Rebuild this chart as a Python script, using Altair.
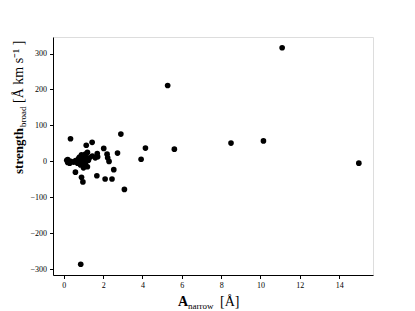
import altair as alt
import pandas as pd

a_narrow = [11.1, 5.28, 2.9, 8.5, 10.15, 5.62, 4.15, 3.93, 15.0, 0.86, 3.08,
            0.34, 1.14, 1.44, 2.03, 2.73, 2.2, 2.23, 2.3, 1.7, 1.72,
            0.59, 0.9, 0.97, 1.68, 2.1, 2.45, 2.54,
            0.15, 0.2, 0.25, 0.3, 0.2, 0.35, 0.5, 0.6, 0.7, 0.75, 0.8, 0.85,
            0.9, 0.95, 1.0, 1.05, 1.1, 1.1, 1.15, 1.2, 1.25, 1.3, 1.45, 1.0,
            0.9, 1.2, 0.7, 1.6]
strength = [316, 211, 76, 51, 57, 34, 37, 6, -5, -286, -78,
            63, 45, 53, 36, 23, 20, 10, 0, 22, 13,
            -30, -44, -57, -40, -49, -49, -23,
            3, -3, 1, -5, 5, 0, -2, 2, -5, 8, 12, -10,
            5, -3, 15, 0, 20, -8, 8, -15, 3, 10, 15, -18,
            18, 25, 0, 10]

x_ticks = [0, 2, 4, 6, 8, 10, 12, 14]
y_ticks = [-300, -200, -100, 0, 100, 200, 300]

df = pd.DataFrame({"a": a_narrow, "s": strength})
FONT = "Liberation Serif"

points = alt.Chart(df).mark_circle(color="black", opacity=1, size=32).encode(
    x=alt.X("a:Q", scale=alt.Scale(domain=[-0.55, 15.72], nice=False, zero=False),
            axis=alt.Axis(values=x_ticks, title=None, grid=False, tickSize=3.5,
                          labelFont=FONT, labelFontSize=8, labelColor="black",
                          tickColor="black", domainColor="black", labelPadding=3)),
    y=alt.Y("s:Q", scale=alt.Scale(domain=[-316, 346], nice=False, zero=False),
            axis=alt.Axis(values=y_ticks, title=None, grid=False, tickSize=3.5,
                          labelFont=FONT, labelFontSize=8, labelColor="black",
                          tickColor="black", domainColor="black", labelPadding=3)),
)

def txt(t, x, y, size, bold=False, angle=0):
    return alt.Chart(pd.DataFrame({"t": [t]})).mark_text(
        font=FONT, fontSize=size, fontWeight="bold" if bold else "normal",
        align="left", baseline="alphabetic", angle=angle, color="black"
    ).encode(text="t:N", x=alt.value(x), y=alt.value(y))

titles = [
    txt("A", 125, 269, 14, bold=True),
    txt("narrow", 135, 272, 9),
    txt("[Å]", 167, 269, 14),
    txt("strength", -30, 137, 13, bold=True, angle=270),
    txt("broad", -27, 90, 9, angle=270),
    txt("[Å km s⁻¹ ]", -30, 66, 14, angle=270),
]

chart = alt.layer(points, *titles).properties(
    width=320, height=238,
    autosize=alt.AutoSizeParams(type="none"),
    padding={"left": 45, "top": 29, "right": 34, "bottom": 36},
).configure_view(stroke="black", strokeWidth=1).configure(background="white")

chart.save("out.html", embed_options={"renderer": "svg", "actions": False})
